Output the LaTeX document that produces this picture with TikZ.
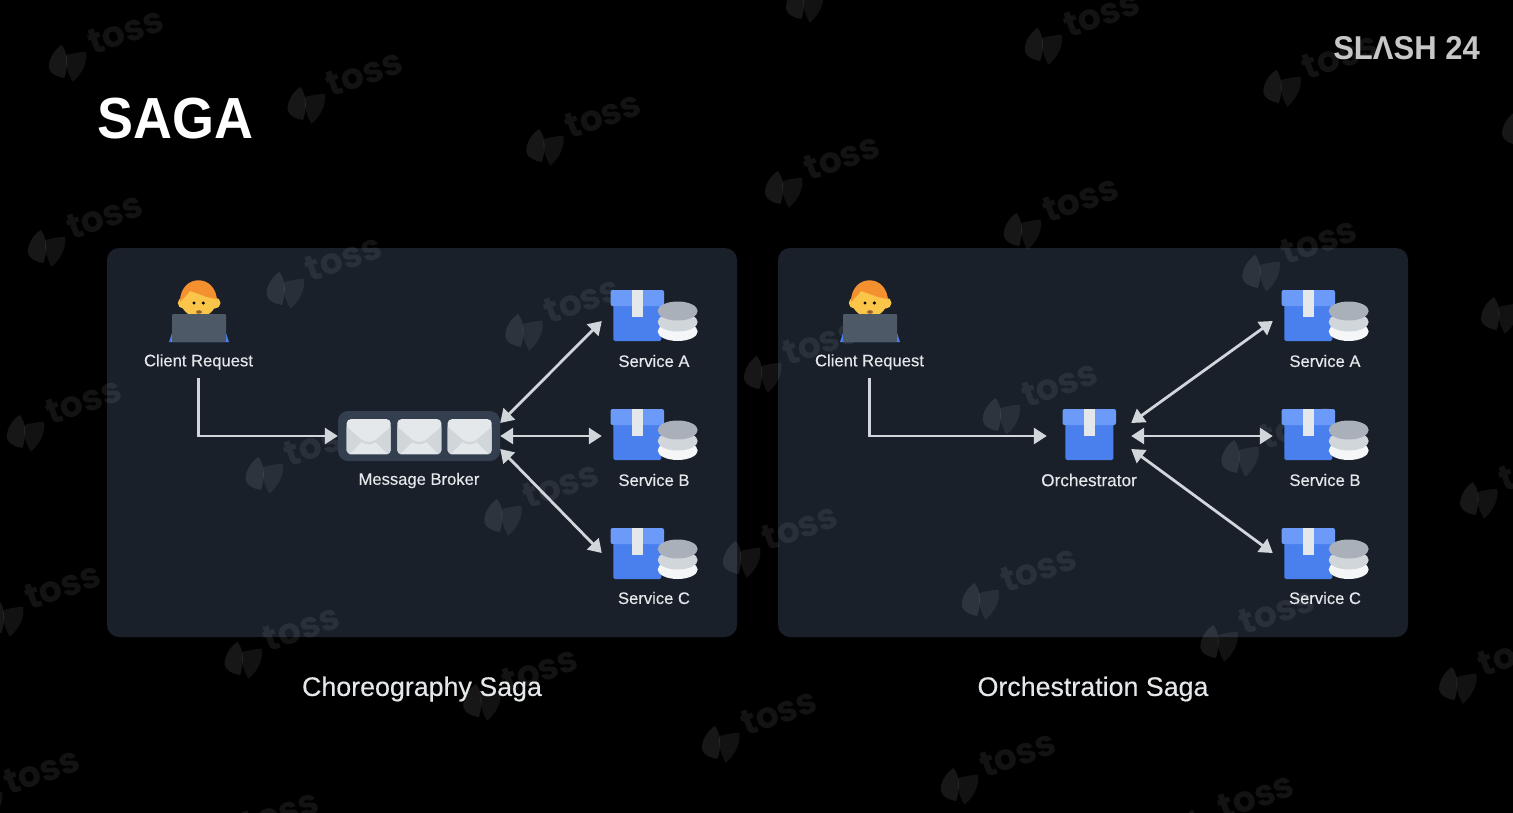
\documentclass[tikz,border=0pt]{standalone}
\usepackage{fontspec}
\setmainfont{Liberation Sans}
\newfontfamily\lblfont{Liberation Sans}[FakeBold=0.25]
\newfontfamily\titlefont{Liberation Sans Bold}[FakeStretch=0.93]
\newfontfamily\slashfont{Liberation Sans Bold}[FakeStretch=0.94]
\newfontfamily\tossfont{Poppins}
\usetikzlibrary{arrows.meta}
\definecolor{panelbg}{HTML}{19202A}
\definecolor{brokerbg}{HTML}{333F4F}
\definecolor{linegray}{HTML}{D1D6DB}
\definecolor{paper}{HTML}{E5E8EB}
\definecolor{lidblue}{HTML}{6B9AF8}
\definecolor{boxblue}{HTML}{4A80EE}
\definecolor{hairorange}{HTML}{F4902F}
\definecolor{faceyellow}{HTML}{FBC54A}
\definecolor{laptopgray}{HTML}{4E5968}
\tikzset{
	panel/.style={fill=panelbg,rounded corners=12pt},
	lbl/.style={text=paper,font=\lblfont\fontsize{16.6}{18}\selectfont,inner sep=0pt},
	captiontext/.style={text=paper,font=\lblfont\fontsize{26.8}{28}\selectfont,inner sep=0pt},
	slot/.style={inner sep=0pt,minimum height=52pt},
	flowline/.style={draw=linegray,line width=2.8pt,-{Triangle[length=13pt,width=16pt]}},
	bothline/.style={flowline,{Triangle[length=13pt,width=16pt]}-{Triangle[length=13pt,width=16pt]}},
	pics/boxicon/.style={code={
		\fill[boxblue,rounded corners=1.5pt] (-24,-12) rectangle (24,25);
		\fill[lidblue,rounded corners=2pt] (-26.7,-26) rectangle (26.7,-10);
		\fill[paper] (-5.5,-26) rectangle (5.5,0.7);
	}},
	pics/discs/.style={code={
		\fill[white!60!paper] (0,20.5) ellipse (20 and 9.5);
		\fill[linegray] (0,11) ellipse (20 and 9.5);
		\fill[laptopgray!30!linegray] (0,0) ellipse (20 and 9.5);
	}},
	pics/clienticon/.style={code={
		\fill[boxblue] (-25,19) -- (-29,31) -- (31,31) -- (27,19) -- cycle;
		\fill[faceyellow] (-14.7,-8) circle (5.5) (17,-8) circle (5.5);
		\fill[faceyellow] (0.5,-11) ellipse (18 and 17);
		\fill[hairorange] (-18,-9) .. controls (-18,-38) and (19,-38) .. (19,-9)
			-- (19,-12) .. controls (12,-13) and (8,-14) .. (3.7,-16) -- (-8,-20) .. controls (-11,-16) and (-14,-13) .. (-18,-9) -- cycle;
		\fill[black] (-4,-8) circle (1.7) (5.3,-8) circle (1.7);
		\fill[brown!75!black] (1,1) ellipse (3 and 1.8);
		\fill[laptopgray,rounded corners=1pt] (-26,3) rectangle (28,31);
	}},
	pics/mailicon/.style={code={
		\fill[paper,rounded corners=4pt] (-22,-17.5) rectangle (22,17.5);
		\fill[linegray] (-22,-10) -- (-7,3) .. controls (-3,6) and (3,6) .. (7,3) -- (22,-10) -- (22,14) -- (19,17.5) -- (-19,17.5) -- (-22,14) -- cycle;
		\fill[paper] (-19,17.5) -- (-7,5.5) .. controls (-3,8.5) and (3,8.5) .. (7,5.5) -- (19,17.5) -- cycle;
	}},
	pics/tossmark/.style={code={
		\fill[white,fill opacity=.09] (-6.3,-17) .. controls (-14,-12) and (-20,-2) .. (-19,6) .. controls (-18,12) and (-10,15) .. (-3.7,16) .. controls (0,6) and (1,-8) .. (-6.3,-17) -- cycle;
		\fill[white,fill opacity=.07] (-1.5,-7) .. controls (6,-9) and (12,-10) .. (18,-10.3) .. controls (20,0) and (14,12) .. (4.7,19.7) .. controls (-1,10) and (-3,0) .. (-1.5,-7) -- cycle;
		\node[text=white,text opacity=.075,rotate=20,inner sep=0pt,font=\tossfont\bfseries\fontsize{36}{36}\selectfont] at (57.5,-31) {toss};
	}}
}
\begin{document}
\begin{tikzpicture}[x=1pt,y=-1pt]
	\useasboundingbox (0,0) rectangle (1513,812);
	\fill[black] (-3,-3) rectangle (1516,815);
	\fill[panel] (107,248) rectangle (737,637);
	\fill[panel] (778,248) rectangle (1408,637);
	% watermark
	\foreach \r in {-1,...,4}
		\foreach \c in {0,...,6}
			\pic at ({68-21*\r+238.7*\c},{62+185*\r+42*\c}) {tossmark};
	\node[text=white,font=\titlefont\fontsize{58}{58}\selectfont,anchor=base west,inner sep=0pt] (title) at (97,138) {SAGA};
	\node[text=white!78!black,font=\slashfont\fontsize{33}{33}\selectfont,anchor=base east,inner sep=0pt] (slash) at (1480,59) {SLΛSH 24};
	% left and right panel share these
	\foreach \s/\dx in {L/0,R/671}{
		\pic at (198+\dx,311) {clienticon};
		\node[lbl,inner ysep=8pt] (client\s) at (198.5+\dx,362) {Client Request};
		\foreach \n/\ypos/\ylbl in {A/316/361,B/435/480,C/554/598}{
			\node[slot,minimum width=104pt] (svc\n\s) at (654+\dx,\ypos) {};
			\pic at (637.3+\dx,\ypos) {boxicon};
			\pic at (677.7+\dx,\ypos-5) {discs};
			\node[lbl] (lbl\n\s) at (654+\dx,\ylbl) {Service \n};
		}
	}
	% broker
	\node[fill=brokerbg,rounded corners=10pt,inner sep=0pt,minimum width=162pt,minimum height=50pt] (broker) at (419,436) {};
	\foreach \x in {368.7,419.3,469.7}
		\pic at (\x,436.7) {mailicon};
	\node[lbl] (brokerlbl) at (419,480.5) {Message Broker};
	% orchestrator
	\node[slot,minimum width=84pt] (orch) at (1089,436) {};
	\pic at (1089.3,435) {boxicon};
	\node[lbl,font=\lblfont\fontsize{17.2}{18}\selectfont] (orchlbl) at (1089,480) {Orchestrator};
	% connectors
	\draw[flowline] (clientL.south) |- (broker.west);
	\draw[bothline] ([yshift=13pt]broker.east) -- ([yshift=-5pt]svcAL.west);
	\draw[bothline] (broker.east) -- ([yshift=-1pt]svcBL.west);
	\draw[bothline] ([yshift=-13pt]broker.east) -- ([yshift=1pt]svcCL.west);
	%
	\draw[flowline] (clientR.south) |- (orch.west);
	\draw[bothline] ([yshift=13pt]orch.east) -- ([yshift=-5pt]svcAR.west);
	\draw[bothline] (orch.east) -- ([yshift=-1pt]svcBR.west);
	\draw[bothline] ([yshift=-13pt]orch.east) -- ([yshift=1pt]svcCR.west);
	% captions
	\node[captiontext] (capL) at (422,689) {Choreography Saga};
	\node[captiontext] (capR) at (1093,689) {Orchestration Saga};
\end{tikzpicture}
\end{document}
